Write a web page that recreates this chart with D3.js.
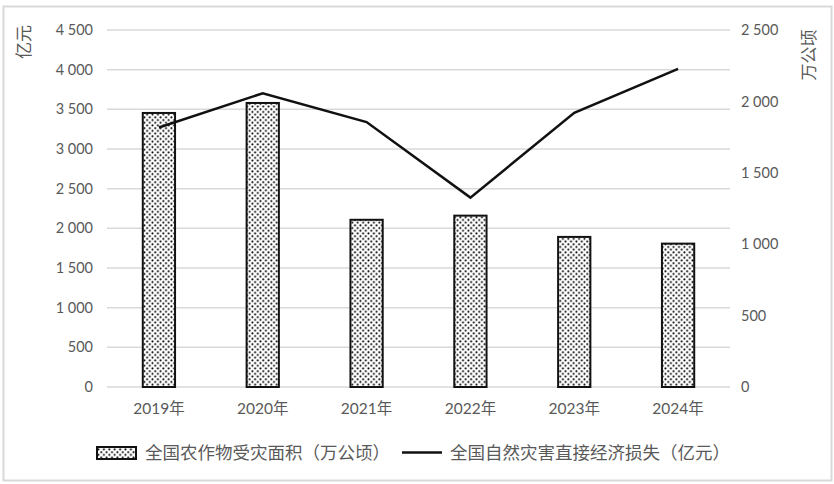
<!DOCTYPE html>
<html>
<head>
<meta charset="utf-8">
<script src="https://cdn.jsdelivr.net/npm/d3@7"></script>
<style>
  body { margin: 0; background: #fff; }
  svg { display: block; }
</style>
</head>
<body>
<div id="chart"></div>
<script>
// data
const years = ["2019年", "2020年", "2021年", "2022年", "2023年", "2024年"];
const cropArea = [1926, 1996, 1178, 1207, 1058, 1011];   // 万公顷, right axis, bars
const econLoss = [3271, 3702, 3340, 2387, 3455, 4011];   // 亿元, left axis, line
const leftTicks = [0, 500, 1000, 1500, 2000, 2500, 3000, 3500, 4000, 4500];
const rightTicks = [0, 500, 1000, 1500, 2000, 2500];
const legendNames = ["全国农作物受灾面积（万公顷）", "全国自然灾害直接经济损失（亿元）"];

const W = 834, H = 484;
const plotL = 107, plotR = 730, plotT = 30, plotB = 387;
const numFont = "Lato, 'Noto Sans CJK SC', sans-serif";
const cjkFont = "'Noto Sans CJK SC', sans-serif";
const grey = "#595959";

const svg = d3.select("#chart").append("svg")
  .attr("width", W)
  .attr("height", H);

// dotted fill like the excel pattern
const pat = svg.append("defs").append("pattern")
  .attr("id", "dots")
  .attr("patternUnits", "userSpaceOnUse")
  .attr("width", 5.4)
  .attr("height", 5.4);
pat.append("rect").attr("width", 5.4).attr("height", 5.4).attr("fill", "#fff");
pat.append("circle").attr("cx", 1.3).attr("cy", 1.3).attr("r", 1.0).attr("fill", "#000");
pat.append("circle").attr("cx", 4.0).attr("cy", 4.0).attr("r", 1.0).attr("fill", "#000");

// outer frame
svg.append("rect")
  .attr("x", 3.5).attr("y", 6.5)
  .attr("width", 828).attr("height", 474)
  .attr("fill", "none")
  .attr("stroke", "#d9d9d9")
  .attr("stroke-width", 2);

const x = d3.scaleBand()
  .domain(years)
  .range([plotL, plotR])
  .paddingInner(0.67)
  .paddingOuter(0.335);

const yL = d3.scaleLinear().domain([0, 4500]).range([plotB, plotT]);
const yR = d3.scaleLinear().domain([0, 2500]).range([plotB, plotT]);

const fmt = d3.formatLocale({ decimal: ".", thousands: " ", grouping: [3], currency: ["", ""] }).format(",");

// gridlines from the left axis
svg.append("g").selectAll("line")
  .data(leftTicks)
  .enter()
  .append("line")
  .attr("x1", plotL).attr("x2", plotR)
  .attr("y1", d => yL(d)).attr("y2", d => yL(d))
  .attr("stroke", "#d9d9d9")
  .attr("stroke-width", 1.5);

// left axis
const axL = svg.append("g")
  .attr("transform", `translate(${plotL - 14},0)`)
  .call(d3.axisLeft(yL).tickValues(leftTicks).tickFormat(fmt).tickSize(0).tickPadding(0));
axL.select(".domain").remove();
axL.selectAll("text")
  .attr("font-family", numFont)
  .attr("font-size", 14.5)
  .attr("fill", grey);

// right axis
const axR = svg.append("g")
  .attr("transform", `translate(${plotR + 11},0)`)
  .call(d3.axisRight(yR).tickValues(rightTicks).tickFormat(fmt).tickSize(0).tickPadding(0));
axR.select(".domain").remove();
axR.selectAll("text")
  .attr("font-family", numFont)
  .attr("font-size", 14.5)
  .attr("fill", grey);

// category axis
const axX = svg.append("g")
  .attr("transform", `translate(0,${plotB + 16})`)
  .call(d3.axisBottom(x).tickSize(0).tickPadding(0));
axX.select(".domain").remove();
axX.selectAll("text")
  .attr("font-family", numFont)
  .attr("font-size", 15.5)
  .attr("fill", grey);

// axis titles
svg.append("text")
  .attr("transform", "translate(30,42) rotate(-90)")
  .attr("text-anchor", "middle")
  .attr("font-family", cjkFont)
  .attr("font-size", 17)
  .attr("fill", grey)
  .text("亿元");

svg.append("text")
  .attr("transform", "translate(815,55) rotate(-90)")
  .attr("text-anchor", "middle")
  .attr("font-family", cjkFont)
  .attr("font-size", 17)
  .attr("fill", grey)
  .text("万公顷");

// bars (right axis)
svg.append("g").selectAll("rect")
  .data(cropArea)
  .enter()
  .append("rect")
  .attr("x", (d, i) => x(years[i]) + 1)
  .attr("y", d => yR(d) + 1)
  .attr("width", x.bandwidth() - 2)
  .attr("height", d => plotB - yR(d) - 1)
  .attr("fill", "url(#dots)")
  .attr("stroke", "#111")
  .attr("stroke-width", 2);

// line (left axis)
const line = d3.line()
  .x((d, i) => x(years[i]) + x.bandwidth() / 2)
  .y(d => yL(d));

svg.append("path")
  .datum(econLoss)
  .attr("d", line)
  .attr("fill", "none")
  .attr("stroke", "#111")
  .attr("stroke-width", 2.5)
  .attr("stroke-linejoin", "miter");

// legend
const lg = svg.append("g");
lg.append("rect")
  .attr("x", 97).attr("y", 447)
  .attr("width", 39).attr("height", 12)
  .attr("fill", "url(#dots)")
  .attr("stroke", "#111")
  .attr("stroke-width", 2);
lg.append("text")
  .attr("x", 145).attr("y", 459)
  .attr("font-family", cjkFont)
  .attr("font-size", 17.5)
  .attr("fill", grey)
  .text(legendNames[0]);
lg.append("line")
  .attr("x1", 402).attr("x2", 442)
  .attr("y1", 452.5).attr("y2", 452.5)
  .attr("stroke", "#111")
  .attr("stroke-width", 2.5);
lg.append("text")
  .attr("x", 450).attr("y", 459)
  .attr("font-family", cjkFont)
  .attr("font-size", 17.5)
  .attr("fill", grey)
  .text(legendNames[1]);
</script>
</body>
</html>
